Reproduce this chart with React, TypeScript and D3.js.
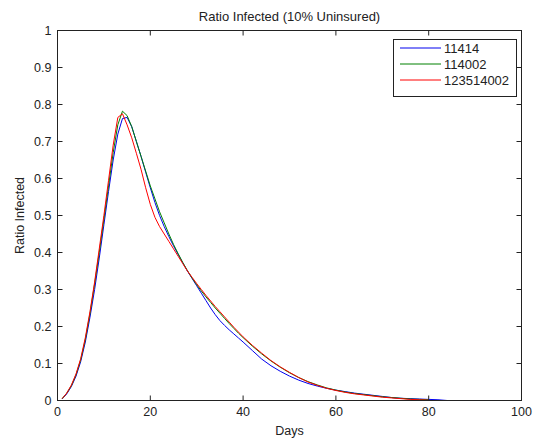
import React from "react";
import * as d3 from "d3";

const days = [
  1, 2, 3, 4, 5, 6, 7, 8, 9, 10, 11, 12, 13, 14, 15, 16, 17, 18, 19, 20,
  21, 22, 23, 24, 25, 26, 27, 28, 29, 30, 31, 32, 33, 34, 35, 36, 37, 38, 39, 40,
  42, 44, 46, 48, 50, 52, 54, 56, 58, 60, 62, 64, 66, 68, 70, 72, 74, 76, 78, 80, 82, 84,
];

const series11414 = [
  0.004, 0.018, 0.038, 0.066, 0.105, 0.158, 0.225, 0.3, 0.385, 0.475,
  0.565, 0.65, 0.72, 0.762, 0.765, 0.74, 0.7, 0.66, 0.617, 0.575,
  0.535, 0.5, 0.47, 0.443, 0.418, 0.395, 0.372, 0.35, 0.33, 0.31,
  0.29, 0.27, 0.25, 0.232, 0.216, 0.203, 0.191, 0.18, 0.169, 0.158,
  0.135, 0.112, 0.094, 0.079, 0.066, 0.055, 0.046, 0.039, 0.033, 0.028,
  0.024, 0.02, 0.017, 0.014, 0.011, 0.008, 0.006, 0.005, 0.004, 0.003, 0.002, 0.0,
];

const series114002 = [
  0.005, 0.02, 0.04, 0.07, 0.11, 0.165, 0.235, 0.315, 0.4, 0.49,
  0.58, 0.67, 0.745, 0.782, 0.77, 0.74, 0.7, 0.66, 0.62, 0.58,
  0.545, 0.51, 0.48, 0.45, 0.422, 0.397, 0.373, 0.351, 0.331, 0.313,
  0.296, 0.28, 0.265, 0.25, 0.236, 0.222, 0.208, 0.195, 0.182, 0.17,
  0.147, 0.126, 0.107, 0.09, 0.075, 0.062, 0.051, 0.042, 0.034, 0.028,
  0.023, 0.019, 0.016, 0.013, 0.01, 0.008, 0.006, 0.004, 0.003, 0.002, NaN, NaN,
];

const series123514002 = [
  0.005, 0.02, 0.042, 0.072, 0.113, 0.17, 0.24, 0.32, 0.41, 0.5,
  0.595, 0.69, 0.765, 0.775, 0.745, 0.71, 0.668, 0.625, 0.575, 0.53,
  0.495, 0.47, 0.45, 0.43, 0.41, 0.39, 0.37, 0.35, 0.333, 0.316,
  0.3, 0.284, 0.269, 0.254, 0.24, 0.226, 0.212, 0.198, 0.185, 0.172,
  0.149, 0.128, 0.108, 0.091, 0.076, 0.062, 0.05, 0.041, 0.033, 0.027,
  0.022, 0.018, 0.015, 0.012, 0.009, 0.007, 0.005, 0.003, 0.002, 0.001, NaN, NaN,
];

const seriesNames = ["11414", "114002", "123514002"];
const seriesColors = ["#0000ee", "#008000", "#ff0000"];
const xTicks = [0, 20, 40, 60, 80, 100];
const yTicks = [0, 0.1, 0.2, 0.3, 0.4, 0.5, 0.6, 0.7, 0.8, 0.9, 1];

const titleText = "Ratio Infected (10% Uninsured)";
const xLabel = "Days";
const yLabel = "Ratio Infected";

export default function App() {
  const W = 538;
  const H = 440;
  const left = 57.5;
  const right = 521.5;
  const top = 30.5;
  const bottom = 400.5;
  const x = d3.scaleLinear().domain([0, 100]).range([left, right]);
  const y = d3.scaleLinear().domain([0, 1]).range([bottom, top]);
  const font = "'Liberation Sans', Arial, sans-serif";
  const fs = 12.5;
  const tl = 5;

  const allSeries = [series11414, series114002, series123514002];
  const line = d3
    .line<[number, number]>()
    .defined((d) => !isNaN(d[1]))
    .x((d) => x(d[0]))
    .y((d) => y(d[1]));

  const lg = { x0: 393.5, y0: 39.5, x1: 516.5, y1: 96.5 };

  return (
    <svg
      width={W}
      height={H}
      style={{ position: "absolute", left: 0, top: 0, background: "#fff" }}
      fontFamily={font}
    >
      <rect x={0} y={0} width={W} height={H} fill="#fff" />
      {allSeries.map((s, i) => (
        <path
          key={i}
          d={line(days.map((d, j) => [d, s[j]] as [number, number])) || ""}
          fill="none"
          stroke={seriesColors[i]}
          strokeWidth={1}
        />
      ))}
      <rect
        x={left}
        y={top}
        width={right - left}
        height={bottom - top}
        fill="none"
        stroke="#222"
        strokeWidth={1}
      />
      {xTicks.map((t) => (
        <g key={"x" + t}>
          <line x1={x(t)} x2={x(t)} y1={bottom} y2={bottom - tl} stroke="#222" />
          <line x1={x(t)} x2={x(t)} y1={top} y2={top + tl} stroke="#222" />
          <text x={x(t)} y={bottom + 15} textAnchor="middle" fontSize={fs} fill="#222">
            {t}
          </text>
        </g>
      ))}
      {yTicks.map((t) => (
        <g key={"y" + t}>
          <line x1={left} x2={left + tl} y1={y(t)} y2={y(t)} stroke="#222" />
          <line x1={right} x2={right - tl} y1={y(t)} y2={y(t)} stroke="#222" />
          <text x={left - 6} y={y(t) + 4} textAnchor="end" fontSize={fs} fill="#222">
            {t}
          </text>
        </g>
      ))}
      <text x={(left + right) / 2} y={21} textAnchor="middle" fontSize={13} fill="#222">
        {titleText}
      </text>
      <text x={(left + right) / 2} y={435} textAnchor="middle" fontSize={fs} fill="#222">
        {xLabel}
      </text>
      <text
        transform={`translate(24, ${(top + bottom) / 2}) rotate(-90)`}
        textAnchor="middle"
        fontSize={fs}
        fill="#222"
      >
        {yLabel}
      </text>
      <rect
        x={lg.x0}
        y={lg.y0}
        width={lg.x1 - lg.x0}
        height={lg.y1 - lg.y0}
        fill="#fff"
        stroke="#222"
      />
      {seriesNames.map((n, i) => (
        <g key={n}>
          <line
            x1={400}
            x2={441}
            y1={48 + i * 16}
            y2={48 + i * 16}
            stroke={seriesColors[i]}
          />
          <text x={444} y={52.5 + i * 16} fontSize={13} fill="#222">
            {n}
          </text>
        </g>
      ))}
    </svg>
  );
}
